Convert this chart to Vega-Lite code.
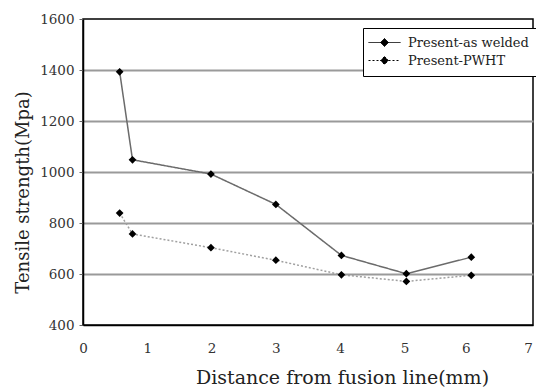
{
  "$schema": "https://vega.github.io/schema/vega-lite/v6.json",
  "width": 450,
  "height": 306,
  "autosize": {"type": "none"},
  "padding": {"left": 83, "top": 19, "right": 3, "bottom": 62},
  "background": "white",
  "config": {
    "view": {"stroke": "black", "strokeWidth": 1.5},
    "font": "DejaVu Serif"
  },
  "data": {
    "values": [
      {"series": "Present-as welded", "x": 0.57, "y": 1393},
      {"series": "Present-as welded", "x": 0.77, "y": 1048},
      {"series": "Present-as welded", "x": 1.99, "y": 992},
      {"series": "Present-as welded", "x": 3.0, "y": 873},
      {"series": "Present-as welded", "x": 4.02, "y": 673},
      {"series": "Present-as welded", "x": 5.03, "y": 601},
      {"series": "Present-as welded", "x": 6.04, "y": 666},
      {"series": "Present-PWHT", "x": 0.57, "y": 839},
      {"series": "Present-PWHT", "x": 0.77, "y": 757},
      {"series": "Present-PWHT", "x": 1.99, "y": 703},
      {"series": "Present-PWHT", "x": 3.0, "y": 654},
      {"series": "Present-PWHT", "x": 4.02, "y": 597},
      {"series": "Present-PWHT", "x": 5.03, "y": 571},
      {"series": "Present-PWHT", "x": 6.04, "y": 595}
    ]
  },
  "encoding": {
    "x": {
      "field": "x", "type": "quantitative",
      "scale": {"domain": [0, 7], "nice": false, "zero": false},
      "axis": {
        "title": "Distance from fusion line(mm)",
        "values": [0, 1, 2, 3, 4, 5, 6, 7],
        "format": "d",
        "grid": false,
        "ticks": false,
        "labelPadding": 16,
        "labelOffset": {"condition": [{"test": "datum.value == 7", "value": -5}, {"test": "datum.value == 6", "value": -3}], "value": 0},
        "labelFont": "DejaVu Serif", "labelFontSize": 13.5, "labelColor": "#333",
        "labelFlush": false,
        "domainColor": "black", "domainWidth": 1.5,
        "titleFont": "DejaVu Serif", "titleFontSize": 19, "titleFontWeight": "normal", "titleColor": "#222",
        "titleX": 259, "titleY": 58, "titleBaseline": "alphabetic"
      }
    },
    "y": {
      "field": "y", "type": "quantitative",
      "scale": {"domain": [400, 1600], "nice": false, "zero": false},
      "axis": {
        "title": "Tensile strength(Mpa)",
        "values": [400, 600, 800, 1000, 1200, 1400, 1600],
        "format": "d",
        "grid": true,
        "gridColor": {"condition": {"test": "datum.value == 400 || datum.value == 1600", "value": "transparent"}, "value": "#9a9a9a"},
        "gridWidth": 2,
        "tickSize": 4, "tickColor": "#666",
        "labelPadding": 5,
        "labelFont": "DejaVu Serif", "labelFontSize": 13.5, "labelColor": "#333",
        "labelFlush": false,
        "domainColor": "black", "domainWidth": 1.5,
        "titleFont": "DejaVu Serif", "titleFontSize": 18, "titleFontWeight": "normal", "titleColor": "#222",
        "titleX": -55, "titleY": 173, "titleBaseline": "alphabetic"
      }
    }
  },
  "layer": [
    {
      "mark": {"type": "line", "strokeWidth": 1.5},
      "encoding": {
        "stroke": {"condition": {"test": "datum.series == 'Present-PWHT'", "value": "#a0a0a0"}, "value": "#6b6b6b"},
        "strokeDash": {
          "field": "series", "type": "nominal",
          "scale": {"domain": ["Present-as welded", "Present-PWHT"], "range": [[1, 0], [2, 2]]},
          "legend": {
            "title": null,
            "orient": "none",
            "legendX": 280,
            "legendY": 9,
            "padding": 8,
            "strokeColor": "black",
            "fillColor": "white",
            "cornerRadius": 0,
            "symbolType": "M-3.2,0L3.2,0M0,-0.8L0.8,0L0,0.8L-0.8,0Z",
            "symbolSize": 100,
            "symbolStrokeColor": "black",
            "symbolFillColor": "black",
            "symbolStrokeWidth": 1,
            "symbolOffset": 7,
            "labelOffset": 17,
            "labelFont": "DejaVu Serif",
            "labelFontSize": 13,
            "labelColor": "#222",
            "rowPadding": 4
          }
        }
      }
    },
    {
      "mark": {"type": "point", "shape": "diamond", "filled": true, "size": 60, "color": "black", "opacity": 1},
      "encoding": {}
    }
  ]
}
